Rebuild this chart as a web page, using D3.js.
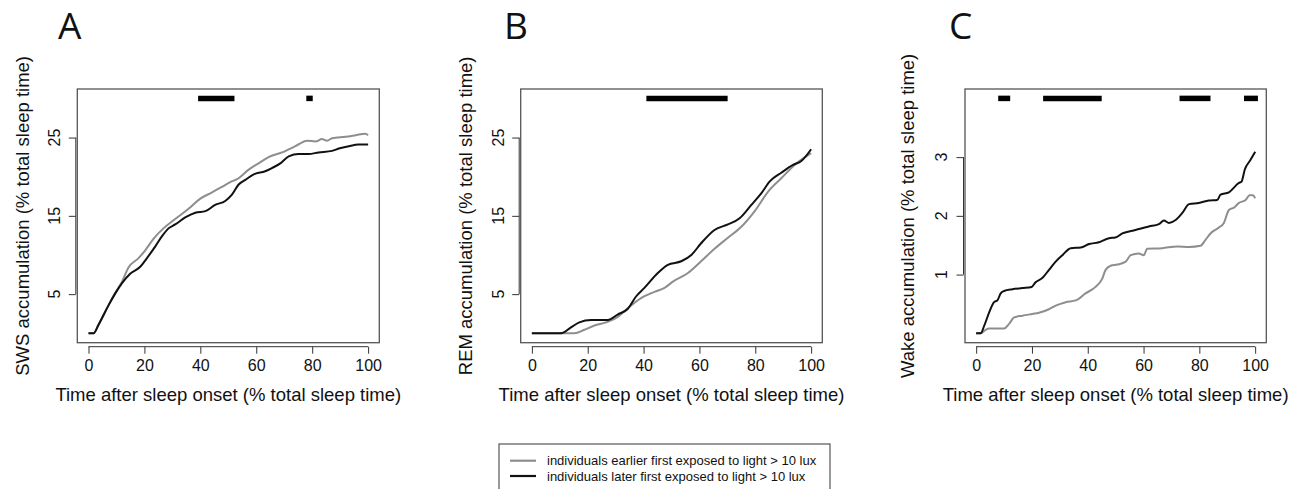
<!DOCTYPE html>
<html>
<head>
<meta charset="utf-8">
<script src="https://cdn.jsdelivr.net/npm/d3@7"></script>
<style>
  html, body { margin: 0; padding: 0; background: #fff; }
  svg { display: block; }
  text { font-family: "Liberation Sans", Arial, sans-serif; fill: #111; }
</style>
</head>
<body>
<svg id="chart" width="1299" height="489"></svg>
<script>
// ---------------- DATA ----------------
const xTicks = [0, 20, 40, 60, 80, 100];
const swsTicks = [5, 15, 25];
const remTicks = [5, 15, 25];
const wakeTicks = [1, 2, 3];
const panelLetters = ["A", "B", "C"];
const yTitles = [
  "SWS accumulation (% total sleep time)",
  "REM accumulation (% total sleep time)",
  "Wake accumulation (% total sleep time)"
];
const xTitle = "Time after sleep onset (% total sleep time)";
const legendLabels = [
  "individuals earlier first exposed to light > 10 lux",
  "individuals later first exposed to light > 10 lux"
];

// [time %, accumulation %]
const swsEarlier = [[0,0],[1.8,0],[3.6,1.1],[7.2,3.6],[9.6,5.2],[12,6.6],[14.3,8.4],[17.9,9.6],[20.3,10.6],[23.3,12.1],[26.8,13.4],[31,14.6],[35.8,15.9],[40,17.2],[44.2,18],[47.7,18.7],[50.7,19.3],[53.7,19.8],[57.3,20.9],[60.8,21.7],[64.4,22.5],[69.2,23.1],[74,23.9],[78.2,24.6],[81.2,24.5],[83.5,24.8],[85.3,24.6],[87.1,24.9],[91.9,25.1],[95.5,25.3],[99,25.5],[100,25.3]];
const swsLater = [[0,0],[1.8,0],[3.6,1.1],[7.2,3.6],[9.6,5.1],[12,6.4],[14.9,7.6],[18.5,8.5],[20.9,9.6],[23.9,11.1],[26.3,12.4],[28.6,13.4],[31,13.9],[34.6,14.8],[38.2,15.4],[41.8,15.6],[45.3,16.4],[48.9,16.9],[51.3,17.7],[53.7,19],[56.1,19.6],[59.1,20.3],[63.2,20.7],[65.6,21.1],[68.6,21.7],[71.6,22.6],[75.2,22.9],[78.7,22.9],[82.3,23.1],[87.1,23.3],[89.5,23.6],[93.1,23.9],[96.6,24.1],[100,24.1]];

const remEarlier = [[0,0],[15.2,0],[18.8,0.45],[22.4,1],[26.6,1.4],[30.8,2.1],[34.3,3.2],[39.1,4.5],[43.9,5.3],[47.5,5.8],[50.5,6.6],[55.9,7.7],[60.6,9.2],[65.4,10.8],[70.2,12.2],[75,13.6],[79.8,15.6],[84.6,18.1],[89.3,19.8],[94.1,21.5],[100,23]];
const remLater = [[0,0],[10.4,0],[14,0.75],[17,1.4],[21.2,1.7],[27.2,1.7],[30.7,2.4],[34.3,3.1],[37.3,4.7],[40.3,5.8],[45.1,7.7],[48.7,8.75],[53.5,9.2],[57.1,10],[60.6,11.5],[65.4,13.2],[70.2,13.9],[74.4,14.7],[78.6,16.4],[82.2,17.9],[85.2,19.4],[89.3,20.5],[93.5,21.5],[96.5,22],[100,23.5]];

const wakeEarlier = [[0,0],[1.6,0],[3.4,0.06],[4.6,0.08],[10,0.08],[11.8,0.16],[13.6,0.27],[16.6,0.3],[20.2,0.33],[22.5,0.35],[26.1,0.41],[28.5,0.47],[32.1,0.53],[35.7,0.56],[39.2,0.68],[42.8,0.79],[45.2,0.93],[46.4,1.08],[48.2,1.15],[50.6,1.17],[53.6,1.22],[55.4,1.33],[58.3,1.36],[60.1,1.33],[61.3,1.44],[66.7,1.45],[72.1,1.48],[76.3,1.47],[80.4,1.49],[82.2,1.59],[84,1.7],[87,1.8],[88.8,1.88],[90.6,2.1],[92.4,2.14],[94.2,2.22],[96.6,2.27],[98,2.35],[99.2,2.35],[100,2.3]];
const wakeLater = [[0,0],[1.6,0],[2.9,0.13],[4.7,0.36],[6.4,0.53],[7.6,0.56],[8.8,0.68],[10,0.72],[13,0.75],[16.6,0.77],[19.9,0.79],[21.3,0.87],[23.7,0.94],[26.1,1.08],[28.5,1.22],[30.9,1.33],[33.9,1.45],[37.5,1.46],[40.5,1.52],[44,1.55],[47.6,1.62],[49.9,1.63],[52.4,1.7],[57.1,1.76],[61.9,1.82],[65.5,1.86],[67.3,1.92],[69.1,1.88],[71.5,1.93],[73.9,2.05],[76.3,2.2],[79.8,2.22],[83.4,2.26],[86.4,2.27],[87.6,2.36],[90.6,2.4],[94.2,2.56],[95.1,2.58],[96.3,2.79],[98.3,2.95],[100,3.09]];

// significance bars [start, end]
const swsSig = [[39.2,52.2],[77.9,80.2]];
const remSig = [[41,70.1]];
const wakeSig = [[7.9,12.2],[24,45],[72.9,84],[96,101]];

const ylims = [[0,30],[0,30],[0,4]];
const sigLevel = [30, 30, 4];

// ---------------- DRAW ----------------
const svg = d3.select("#chart");
const GRAY = "#8e8e8e", BLACK = "#111";

const panels = [
  {left: 77.3, right: 379.3, earlier: swsEarlier, later: swsLater, sig: swsSig, yt: swsTicks, letterX: 58, titleX: 28.5, tickLabX: 59.5},
  {left: 520.7, right: 822.3, earlier: remEarlier, later: remLater, sig: remSig, yt: remTicks, letterX: 504, titleX: 471.5, tickLabX: 503.5},
  {left: 965, right: 1266.3, earlier: wakeEarlier, later: wakeLater, sig: wakeSig, yt: wakeTicks, letterX: 949, titleX: 914, tickLabX: 946.5}
];
const plotTop = 89, plotBottom = 342.7;

panels.forEach((p, i) => {
  const g = svg.append("g");
  const [y0, y1] = ylims[i];
  const ey = (y1 - y0) * 0.04;
  const x = d3.scaleLinear().domain([-4, 104]).range([p.left, p.right]);
  const y = d3.scaleLinear().domain([y0 - ey, y1 + ey]).range([plotBottom, plotTop]);

  // panel letter
  g.append("text").attr("x", p.letterX).attr("y", 39)
    .style("font-family", "'Open Sans', 'Liberation Sans', sans-serif")
    .style("font-size", "37px").text(panelLetters[i]);

  // box
  g.append("rect").attr("x", p.left).attr("y", plotTop)
    .attr("width", p.right - p.left).attr("height", plotBottom - plotTop)
    .attr("fill", "none").attr("stroke", "#555").attr("stroke-width", 1.3);

  // x axis
  const xa = g.append("g").attr("transform", `translate(0,${plotBottom + 4})`)
    .call(d3.axisBottom(x).tickValues(xTicks).tickSize(7).tickPadding(6).tickSizeOuter(0));
  xa.select(".domain").attr("d", `M${x(0)},0H${x(100)}`).attr("stroke", "#333");
  xa.selectAll(".tick line").attr("stroke", "#333");
  xa.selectAll("text").style("font-size", "16px").style("font-family", "'Liberation Sans', Arial, sans-serif").attr("fill", "#111");

  // y axis
  const ya = g.append("g").attr("transform", `translate(${p.left - 1.5},0)`)
    .call(d3.axisLeft(y).tickValues(p.yt).tickSize(7).tickSizeOuter(0));
  ya.select(".domain").attr("d", `M0,${y(p.yt[0])}V${y(p.yt[p.yt.length-1])}`).attr("stroke", "#333");
  ya.selectAll(".tick line").attr("stroke", "#333");
  ya.selectAll("text").remove();
  p.yt.forEach(t => {
    g.append("text")
      .attr("transform", `translate(${p.tickLabX},${y(t)}) rotate(-90)`)
      .attr("text-anchor", "middle").style("font-size", "16px").text(t);
  });

  // titles
  g.append("text").attr("x", (p.left + p.right) / 2).attr("y", 401)
    .attr("text-anchor", "middle").style("font-size", "18.5px").text(xTitle);
  g.append("text")
    .attr("transform", `translate(${p.titleX},${(plotTop + plotBottom) / 2}) rotate(-90)`)
    .attr("text-anchor", "middle").style("font-size", "18.5px").text(yTitles[i]);

  // lines
  const line = d3.line().x(d => x(d[0])).y(d => y(d[1])).curve(d3.curveMonotoneX);
  g.append("path").datum(p.earlier).attr("d", line)
    .attr("fill", "none").attr("stroke", GRAY).attr("stroke-width", 2);
  g.append("path").datum(p.later).attr("d", line)
    .attr("fill", "none").attr("stroke", BLACK).attr("stroke-width", 2);

  // significance bars
  g.selectAll("line.sig").data(p.sig).enter().append("line")
    .attr("class", "sig")
    .attr("x1", d => x(d[0])).attr("x2", d => x(d[1]))
    .attr("y1", y(sigLevel[i])).attr("y2", y(sigLevel[i]))
    .attr("stroke", "#000").attr("stroke-width", 5.5);
});

// legend
const lg = svg.append("g");
lg.append("rect").attr("x", 499).attr("y", 444).attr("width", 331).attr("height", 60)
  .attr("fill", "#fff").attr("stroke", "#555").attr("stroke-width", 1.2);
[GRAY, BLACK].forEach((c, k) => {
  const yy = 460.7 + k * 15.3;
  lg.append("line").attr("x1", 510).attr("x2", 536).attr("y1", yy).attr("y2", yy)
    .attr("stroke", c).attr("stroke-width", 2.2);
  lg.append("text").attr("x", 547).attr("y", yy + 4.5).style("font-size", "13px").text(legendLabels[k]);
});
</script>
</body>
</html>
